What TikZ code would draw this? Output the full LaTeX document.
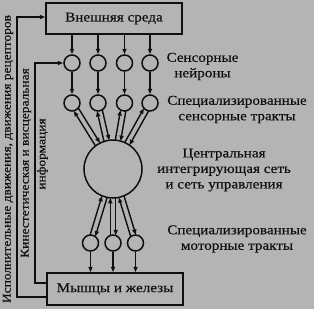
\documentclass[tikz,border=0pt]{standalone}
\usepackage{fontspec}
\setmainfont{Liberation Serif}[FakeStretch=1.12,FakeBold=0.4]
\usetikzlibrary{arrows.meta,calc}
\definecolor{bg}{RGB}{180,180,180}
\definecolor{ink}{RGB}{15,15,15}
\newcommand\fs{\fontsize{13.5}{15.5}\selectfont}
\newcommand\fr{\fontsize{12}{14}\selectfont}
\newcommand\dualarr[4]{%
  \draw[arr] ($(#1)!#3!(#2)!2.7pt!90:(#2)$) -- ($(#2)!#4!(#1)!2.7pt!-90:(#1)$);
  \draw[arr] ($(#2)!#4!(#1)!2.7pt!90:(#1)$) -- ($(#1)!#3!(#2)!2.7pt!-90:(#2)$);}
\begin{document}
\begin{tikzpicture}[x=1pt,y=1pt,color=ink,line width=1.5pt,
  box/.style={draw,rectangle,minimum width=136pt,minimum height=31pt,inner sep=0pt,font=\fs},
  cir/.style={draw,circle,minimum size=16pt,inner sep=0pt},
  big/.style={draw,circle,minimum size=58pt,inner sep=0pt},
  lbl/.style={align=center,font=\fs,inner sep=0pt},
  rlbl/.style={font=\fr,inner sep=0pt,rotate=90},
  arr/.style={-{Triangle[length=5.5pt,width=4pt]},line width=1.4pt}]
\fill[bg] (0,0) rectangle (314,-309);
\useasboundingbox (0,0) rectangle (314,-309);
\node[box] (env) at (114,-18.5) {Внешняя среда};
\node[box,minimum height=32pt] (mus) at (115,-289) {Мышцы и железы};
\foreach \n/\x in {1/72,2/98,3/124.5,4/150} {
  \node[cir] (s\n) at (\x,-63) {};
  \node[cir] (t\n) at (\x,-103) {};
}
\node[big] (c) at (113,-169) {};
\foreach \n/\x in {1/90.5,2/113,3/135.5} {
  \node[cir] (m\n) at (\x,-243) {};
}
\foreach \n in {1,...,4} {
  \draw[arr] (env.south -| s\n) -- (s\n);
  \draw[arr] (s\n) -- (t\n);
  \dualarr{t\n}{c}{7.6pt}{28.8pt}
}
\foreach \n in {1,2,3} {
  \dualarr{c}{m\n}{28.8pt}{7.6pt}
  \draw[arr] (m\n) -- (mus.north -| m\n);
}
\coordinate (ol) at (17,-150);
\coordinate (il) at (35,-150);
\draw[arr] ([yshift=-8pt]mus.west) -| (ol) |- ([yshift=1.5pt]env.west);
\draw[arr] ([yshift=6pt]mus.west) -| (il) |- (s1.west);
\node[rlbl] (lo) at (8,-159) {Исполнительные движения, движения рецепторов};
\node[rlbl] (li1) at (26,-163) {Кинестетическая и висцеральная};
\node[rlbl] (li2) at (42.5,-154) {информация};
\node[lbl] (n1) at (202.5,-66.5) {Сенсорные\\нейроны};
\node[lbl] (n2) at (237,-109.5) {Специализированные\\сенсорные тракты};
\node[lbl] (n3) at (224,-170) {Центральная\\интегрирующая сеть\\и сеть управления};
\node[lbl] (n4) at (237,-239) {Специализированные\\моторные тракты};
\end{tikzpicture}
\end{document}
